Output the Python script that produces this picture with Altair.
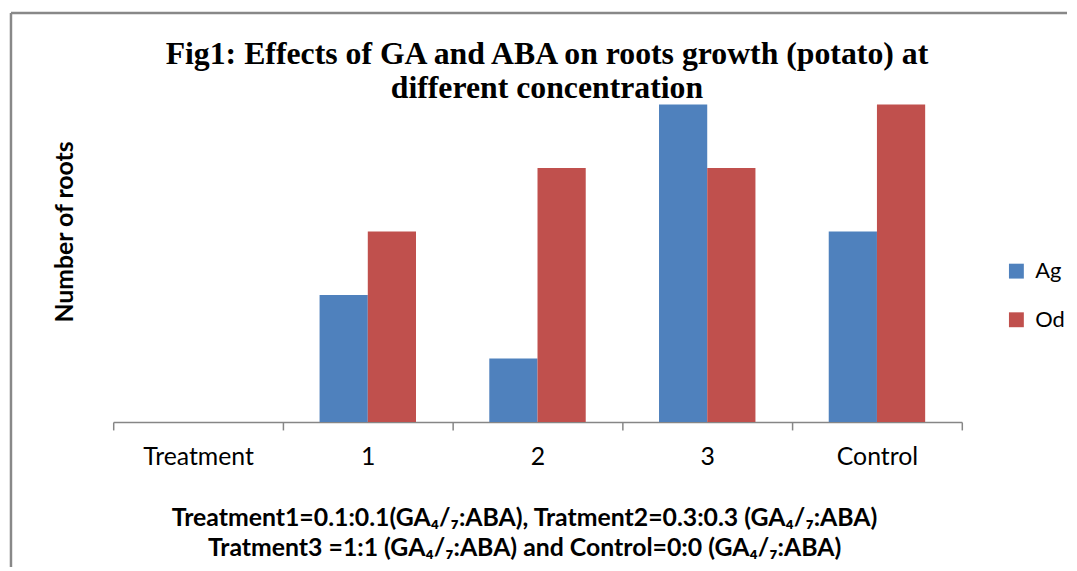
import altair as alt
import pandas as pd

categories = ["Treatment", "1", "2", "3", "Control"]
ag_values = [0, 2, 1, 5, 3]
od_values = [0, 3, 4, 4, 5]
series = ["Ag", "Od"]
colors = ["#4F81BD", "#C0504D"]

rows = []
for c, a, o in zip(categories, ag_values, od_values):
    rows.append({"cat": c, "series": "Ag", "value": a})
    rows.append({"cat": c, "series": "Od", "value": o})
df = pd.DataFrame(rows)
one = pd.DataFrame({"k": [0]})

title_text = ("Fig1: Effects of GA and ABA on roots growth (potato) at\n"
              "different concentration")
caption_lines = ["Treatment1=0.1:0.1(GA\u2084/\u2087:ABA), Tratment2=0.3:0.3 (GA\u2084/\u2087:ABA)",
                 "Tratment3 =1:1 (GA\u2084/\u2087:ABA) and Control=0:0 (GA\u2084/\u2087:ABA)"]

SANS = "Lato"
AXC = "#868686"

bars = alt.Chart(df).mark_bar().encode(
    x=alt.X("cat:N", sort=categories,
            scale=alt.Scale(paddingInner=0, paddingOuter=0),
            axis=alt.Axis(title=caption_lines, labelAngle=0, labelFont=SANS,
                          labelFontSize=25, labelColor="#000000", labelPadding=15,
                          tickSize=8, tickBand="extent", tickColor=AXC, domainColor=AXC,
                          domainWidth=1.5, tickWidth=1.5,
                          titleFont=SANS, titleFontSize=25, titleFontWeight="bold",
                          titleColor="#000000", titlePadding=36, titleLineHeight=31,
                          titleX=414)),
    xOffset=alt.XOffset("series:N", sort=series,
                        scale=alt.Scale(paddingOuter=0.76, paddingInner=0)),
    y=alt.Y("value:Q", scale=alt.Scale(domain=[0, 6], nice=False),
            axis=alt.Axis(title="Number of roots", labels=False, ticks=False,
                          domain=False, grid=False, titleFont=SANS, titleFontSize=25,
                          titleFontWeight="bold", titleColor="#000000", titlePadding=36)),
    color=alt.Color("series:N", sort=series,
                    scale=alt.Scale(domain=series, range=colors),
                    legend=alt.Legend(title=None, orient="none", legendX=899, legendY=221,
                                      symbolType="square", symbolSize=225,
                                      symbolStrokeWidth=0, labelFont=SANS,
                                      labelFontSize=22, labelColor="#000000",
                                      rowPadding=27, labelOffset=8)),
)

title_mark = alt.Chart(one).mark_text(
    font="Liberation Serif", fontSize=32, fontWeight="bold", color="#000000",
    align="center", baseline="alphabetic", lineBreak="\n", lineHeight=35,
).encode(x=alt.value(437), y=alt.value(23), text=alt.value(title_text))

frame_top = alt.Chart(one).mark_rule(color="#888888", strokeWidth=2.5).encode(
    x=alt.value(-103), x2=alt.value(961), y=alt.value(-28))
frame_left = alt.Chart(one).mark_rule(color="#888888", strokeWidth=2.5).encode(
    x=alt.value(-103), y=alt.value(-28), y2=alt.value(530))

chart = alt.layer(frame_top, frame_left, bars, title_mark).properties(
    width=855, height=384,
    padding={"left": 1, "top": 1, "right": 0, "bottom": 0},
).configure_view(stroke=None)

chart.save("out.html", embed_options={"renderer": "svg", "actions": False})
